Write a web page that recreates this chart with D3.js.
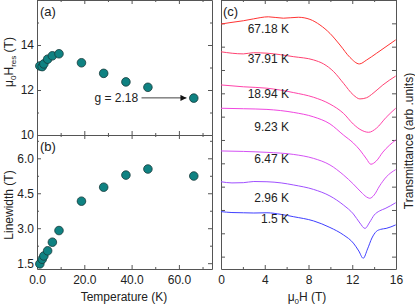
<!DOCTYPE html>
<html>
<head>
<meta charset="utf-8">
<script src="https://cdn.jsdelivr.net/npm/d3@7"></script>
<style>
  body { margin: 0; background: #fff; }
  svg { display: block; font-family: "Liberation Sans", Arial, sans-serif; }
  .axis text { font-size: 12px; fill: #222; }
  .axis path, .axis line { stroke: #555; }
</style>
</head>
<body>
<svg id="chart" width="415" height="306"></svg>
<script>
// temperatures of the points in (a) and (b)
const temps = [1.2, 2.2, 2.9, 4.5, 6.5, 9.3, 18.8, 28.2, 37.6, 46.9, 66.3];
const resField = [13.07, 13.04, 13.16, 13.37, 13.52, 13.61, 13.21, 12.74, 12.36, 12.12, 11.64];
const linewidth = [1.47, 1.67, 1.81, 2.03, 2.40, 2.90, 4.16, 4.76, 5.28, 5.54, 5.24];

// spectra in (c): field (T) and offset transmittance
const spectra = [
  { label: "67.18 K", color: "#ff3333",
    field: [0, 0.82, 2.04, 2.96, 4.33, 5.7, 7.07, 8.13, 9.05, 9.96, 10.88, 11.79, 12.65, 13.32, 14.23, 15.97],
    value: [9.97, 10.03, 10.11, 10.19, 10.28, 10.22, 10.26, 10.17, 9.93, 9.57, 9.07, 8.54, 8.26, 8.43, 8.72, 9.29] },
  { label: "37.91 K", color: "#ff4272",
    field: [0, 2.04, 2.96, 4.2, 6.65, 8.47, 9.38, 10.3, 11.2, 12.1, 12.7, 13.3, 13.9, 14.8, 15.97],
    value: [8.78, 8.69, 8.74, 8.72, 8.57, 8.43, 8.26, 7.93, 7.43, 6.93, 6.76, 6.81, 7.0, 7.36, 7.74] },
  { label: "18.94 K", color: "#ff44aa",
    field: [0, 2.04, 4.2, 6.65, 8.47, 9.96, 11.2, 12.1, 12.8, 13.5, 14.2, 15.1, 15.97],
    value: [7.36, 7.28, 7.22, 7.03, 6.83, 6.54, 6.14, 5.68, 5.43, 5.33, 5.50, 5.97, 6.36] },
  { label: "9.23 K", color: "#f046e0",
    field: [0, 2.04, 4.2, 6.65, 8.47, 9.96, 11.2, 12.1, 12.7, 13.3, 13.7, 14.2, 14.8, 15.97],
    value: [6.36, 6.34, 6.31, 6.18, 5.99, 5.69, 5.21, 4.87, 4.57, 4.19, 3.96, 4.10, 4.48, 5.0] },
  { label: "6.47 K", color: "#d452f4",
    field: [0, 2.04, 4.2, 6.65, 8.47, 9.96, 11.2, 12.1, 12.8, 13.3, 13.6, 14.0, 14.5, 15.1, 15.97],
    value: [4.53, 4.51, 4.47, 4.38, 4.21, 3.93, 3.50, 3.11, 2.77, 2.56, 2.50, 2.64, 3.03, 3.41, 3.73] },
  { label: "2.96 K", color: "#a050ff",
    field: [0, 1, 2.04, 3, 4.2, 5.5, 6.65, 8.47, 9.96, 11.2, 12.1, 12.7, 13.16, 13.6, 14.0, 14.5, 15.0, 15.97],
    value: [3.21, 3.16, 3.17, 3.22, 3.21, 3.16, 3.07, 2.88, 2.60, 2.21, 1.83, 1.44, 1.21, 1.48, 1.78, 1.96, 2.06, 2.31] },
  { label: "1.5 K", color: "#3f3fff",
    field: [0, 1, 2.04, 3, 4.2, 5.5, 6.65, 8.47, 9.96, 11.2, 12.1, 12.6, 13.0, 13.4, 13.8, 14.2, 14.6, 15.1, 15.97],
    value: [1.93, 1.89, 1.88, 1.87, 1.88, 1.81, 1.71, 1.53, 1.25, 0.93, 0.58, 0.24, -0.07, 0.33, 0.80, 1.08, 1.17, 1.21, 1.36] }
];
const labelY = [9.6, 8.3, 6.8, 5.4, 4.0, 2.35, 1.45];

const svg = d3.select("#chart");

const xT = d3.scaleLinear().domain([0, 74]).range([37, 212]);
const yA = d3.scaleLinear().domain([10, 16]).range([135, 0]);
const yB = d3.scaleLinear().domain([1.25, 7]).range([269, 135]);
const xC = d3.scaleLinear().domain([0, 16]).range([221, 396]);
const yC = d3.scaleLinear().domain([-0.53, 11]).range([269, 0]);

// draws a frame with inward ticks on all four sides
function frame(x, y, o) {
  const [x0, x1] = x.range();
  const [y0, y1] = [y.range()[1], y.range()[0]];
  const sides = [
    { axis: d3.axisBottom, scale: x, tr: `translate(0,${y1})`, major: o.xMajor, minor: o.xMinor, label: o.xLabels, pad: 6 },
    { axis: d3.axisTop, scale: x, tr: `translate(0,${y0})`, major: o.xMajor, minor: o.xMinor, label: false },
    { axis: d3.axisLeft, scale: y, tr: `translate(${x0},0)`, major: o.yMajor, minor: o.yMinor, label: o.yLabels, pad: 3 },
    { axis: d3.axisRight, scale: y, tr: `translate(${x1},0)`, major: o.yMajor, minor: o.yMinor, label: false }
  ];
  sides.forEach((s) => {
    const g = svg.append("g").attr("class", "axis").attr("transform", s.tr);
    g.call(s.axis(s.scale).tickValues(s.major).tickSizeInner(-4).tickSizeOuter(0)
      .tickPadding(s.pad || 3)
      .tickFormat(s.label ? (o.fmt || d3.format("d")) : () => ""));
    if (s.minor) {
      const m = svg.append("g").attr("class", "axis").attr("transform", s.tr);
      m.call(s.axis(s.scale).tickValues(s.minor).tickSizeInner(-2).tickSizeOuter(0).tickFormat(() => ""));
      m.select(".domain").remove();
    }
  });
}

frame(xT, yA, { xMajor: [0, 20, 40, 60], xMinor: [10, 30, 50, 70], yMajor: [10, 12, 14], yMinor: [11, 13, 15], xLabels: false, yLabels: true });
frame(xT, yB, { xMajor: [0, 20, 40, 60], xMinor: [10, 30, 50, 70], yMajor: [1.5, 3, 4.5, 6], yMinor: [2.25, 3.75, 5.25, 6.75], xLabels: true, yLabels: true, fmt: d3.format(".1f") });
frame(xC, yC, { xMajor: [0, 4, 8, 12, 16], xMinor: [2, 6, 10, 14], yMajor: d3.range(0, 11), xLabels: true, yLabels: false });

// spectra
const line = d3.line().curve(d3.curveMonotoneX)
  .x((d) => xC(d[0])).y((d) => yC(d[1]));
spectra.forEach((s, i) => {
  svg.append("path")
    .datum(s.field.map((f, j) => [f, s.value[j]]))
    .attr("d", line)
    .attr("fill", "none")
    .attr("stroke", s.color)
    .attr("stroke-width", 1);
  svg.append("text")
    .attr("x", 289).attr("y", yC(labelY[i]))
    .attr("text-anchor", "end").attr("font-size", 12).attr("fill", "#222")
    .text(s.label);
});

// scatter points
function dots(y, vals) {
  svg.append("g").selectAll("circle")
    .data(vals)
    .join("circle")
    .attr("cx", (d, i) => xT(temps[i]))
    .attr("cy", (d) => y(d))
    .attr("r", 4.3)
    .attr("fill", "#0f8282")
    .attr("stroke", "#173a3a")
    .attr("stroke-width", 0.8);
}
dots(yA, resField);
dots(yB, linewidth);

// g-factor annotation
svg.append("defs").append("marker")
  .attr("id", "head").attr("viewBox", "0 0 10 10")
  .attr("refX", 10).attr("refY", 5)
  .attr("markerWidth", 9).attr("markerHeight", 6)
  .attr("markerUnits", "userSpaceOnUse")
  .attr("orient", "auto")
  .append("path").attr("d", "M0,0L10,5L0,10z").attr("fill", "#111");
svg.append("line")
  .attr("x1", xT(44.2)).attr("x2", xT(63.2))
  .attr("y1", yA(11.65)).attr("y2", yA(11.65))
  .attr("stroke", "#111").attr("stroke-width", 0.8)
  .attr("marker-end", "url(#head)");
svg.append("text")
  .attr("x", xT(42.8)).attr("y", yA(11.65) + 4.5)
  .attr("text-anchor", "end").attr("font-size", 12).attr("fill", "#222")
  .text("g = 2.18");

// panel letters
[["(a)", 40, 16], ["(b)", 40, 151], ["(c)", 223, 16]].forEach(([t, x, y]) => {
  svg.append("text").attr("x", x).attr("y", y)
    .attr("font-size", 13).attr("fill", "#222").text(t);
});

// axis titles
const ya = svg.append("text")
  .attr("transform", "translate(13,62) rotate(-90)")
  .attr("text-anchor", "middle").attr("font-size", 12).attr("fill", "#222");
ya.append("tspan").text("μ");
ya.append("tspan").attr("font-size", 8).attr("dy", 3).text("0");
ya.append("tspan").attr("dy", -3).text("H");
ya.append("tspan").attr("font-size", 8).attr("dy", 3).text("res");
ya.append("tspan").attr("dy", -3).text(" (T)");

svg.append("text")
  .attr("transform", "translate(13,205) rotate(-90)")
  .attr("text-anchor", "middle").attr("font-size", 12).attr("fill", "#222")
  .text("Linewidth (T)");

svg.append("text")
  .attr("x", 124).attr("y", 301)
  .attr("text-anchor", "middle").attr("font-size", 12).attr("fill", "#222")
  .text("Temperature (K)");

const xc = svg.append("text")
  .attr("x", 307).attr("y", 301)
  .attr("text-anchor", "middle").attr("font-size", 12).attr("fill", "#222");
xc.append("tspan").text("μ");
xc.append("tspan").attr("font-size", 8).attr("dy", 3).text("0");
xc.append("tspan").attr("dy", -3).text("H (T)");

svg.append("text")
  .attr("transform", "translate(413,141) rotate(-90)")
  .attr("text-anchor", "middle").attr("font-size", 12).attr("fill", "#222")
  .text("Transmittance (arb .units)");
</script>
</body>
</html>
